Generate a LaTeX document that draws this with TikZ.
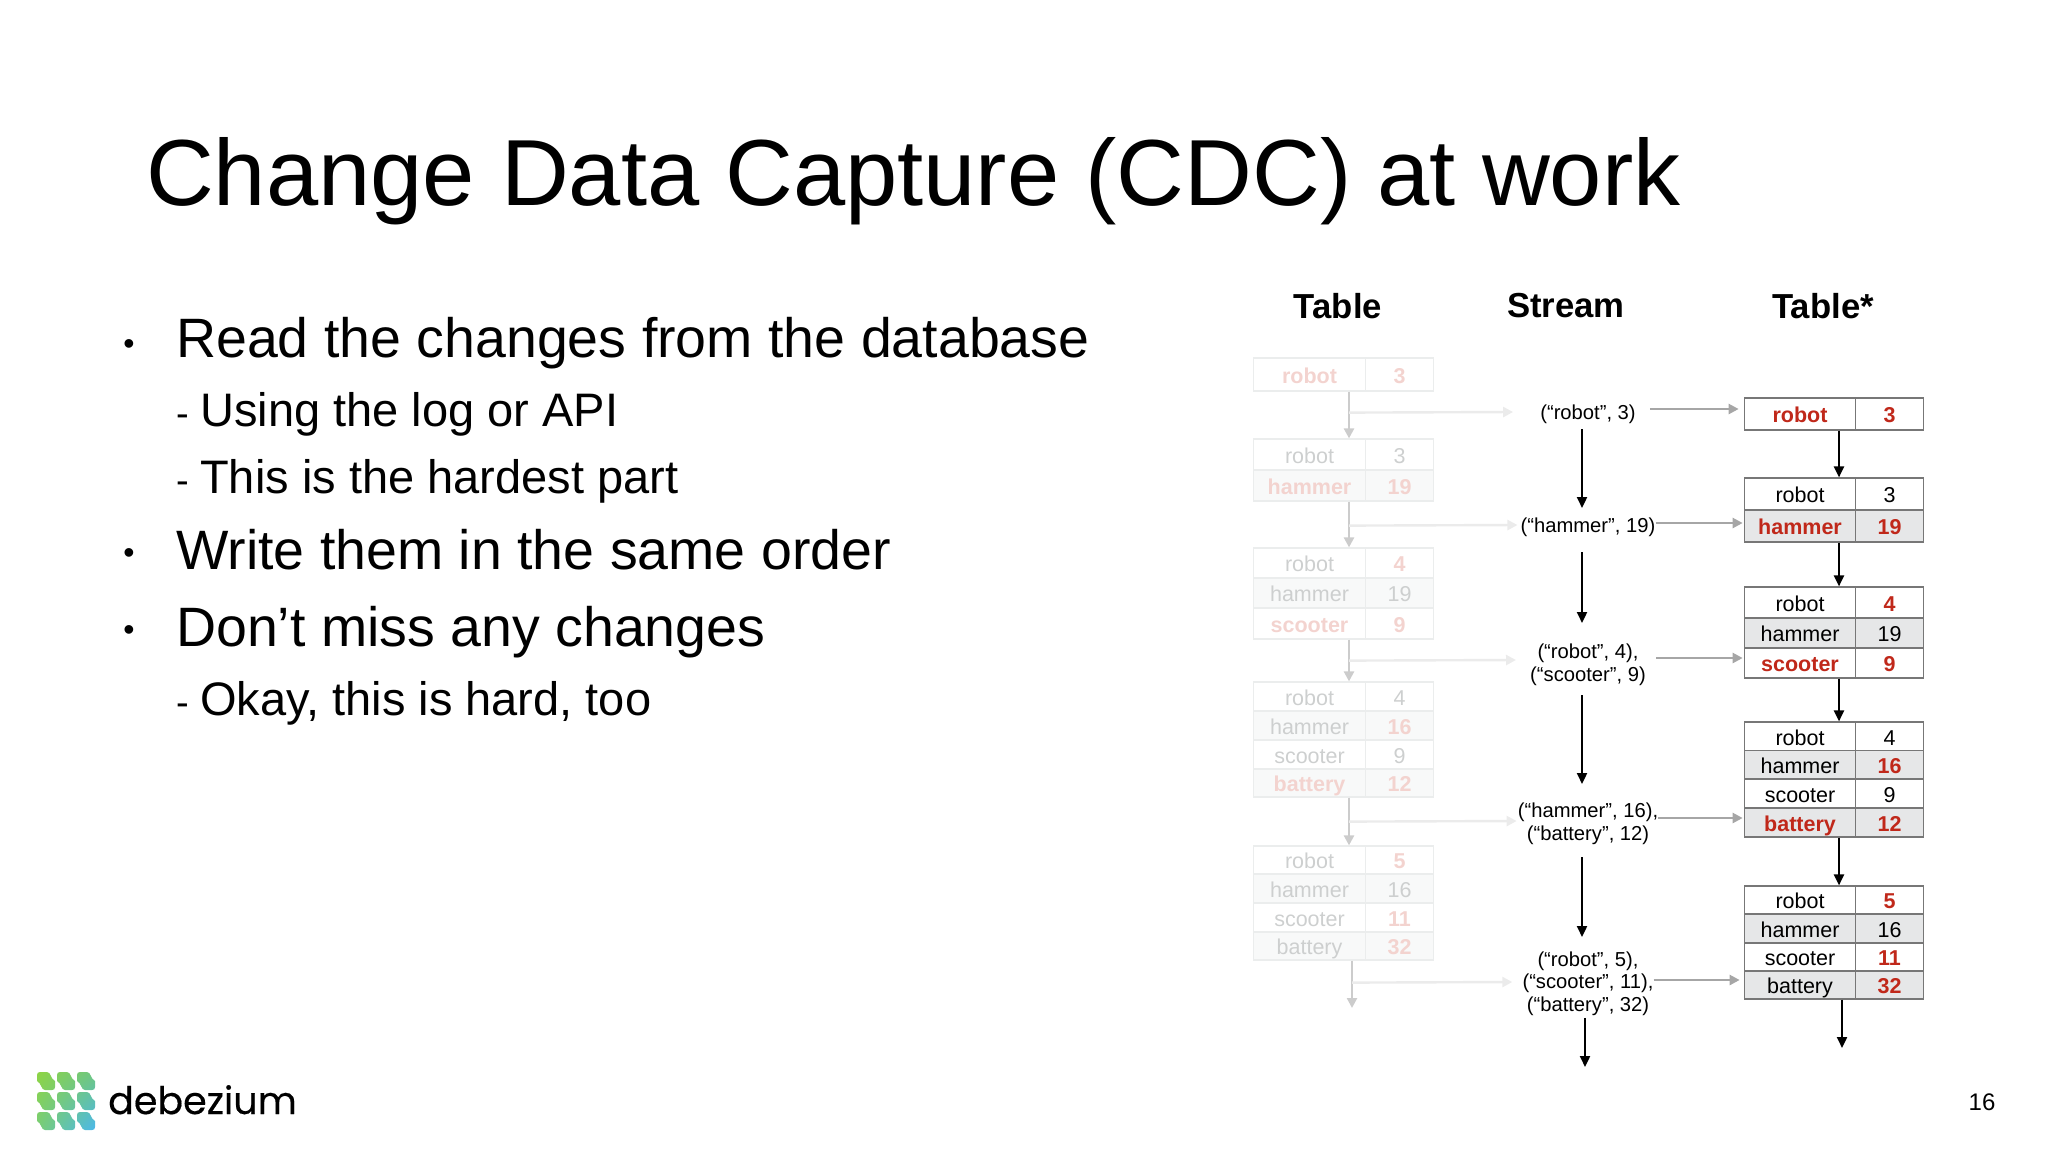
\documentclass[tikz,border=0pt]{standalone}
\usepackage{fontspec}
\setmainfont{Liberation Sans}
\newfontfamily\logofont[FakeBold=0.4]{Poppins}
\usetikzlibrary{arrows.meta,shadings}
\definecolor{hotred}{HTML}{C0281A}
\definecolor{paleink}{HTML}{CDCFCF}
\definecolor{palered}{HTML}{F3D3CF}
\definecolor{paleline}{HTML}{EBEDED}
\definecolor{palefill}{HTML}{F8F9F9}
\definecolor{rowgrey}{HTML}{E6E7E8}
\definecolor{cellline}{HTML}{777777}
\definecolor{logoa}{RGB}{142,212,68}
\definecolor{logob}{RGB}{110,198,130}
\definecolor{logoc}{RGB}{120,205,120}
\definecolor{logod}{RGB}{75,184,235}
\begin{document}
\begin{tikzpicture}[
    x=1pt, y=-1pt,
    title/.style={anchor=base west, inner sep=0pt, font=\fontsize{93.9}{100}\selectfont},
    bigline/.style={anchor=base west, inner sep=0pt, font=\fontsize{55.5}{60}\selectfont},
    subline/.style={anchor=base west, inner sep=0pt, font=\fontsize{47}{52}\selectfont},
    dashmark/.style={anchor=base west, inner sep=0pt, font=\fontsize{38}{40}\selectfont},
    dotmark/.style={inner sep=0pt, font=\fontsize{32}{32}\selectfont},
    header/.style={inner sep=0pt, font=\fontsize{34.7}{36}\selectfont\bfseries},
    streamtext/.style={align=center, inner sep=0pt, font=\fontsize{20.2}{22.7}\selectfont},
    cell/.style={draw=cellline, line width=1.2pt, minimum height=#1, inner sep=0pt, text height=17.5pt, text depth=0pt, font=\fontsize{21.5}{23}\selectfont},
    keycell/.style={cell=#1, minimum width=111.5pt},
    valcell/.style={cell=#1, minimum width=67.5pt},
    plain/.style={},
    hot/.style={text=hotred, font=\fontsize{21.5}{23}\selectfont\bfseries},
    grey/.style={fill=rowgrey},
    hotgrey/.style={hot, grey},
    faint/.style={draw=paleline, text=paleink},
    faintfill/.style={faint, fill=palefill},
    faintred/.style={draw=paleline, text=palered, font=\fontsize{21.5}{23}\selectfont\bfseries},
    faintredfill/.style={faintred, fill=palefill},
    flow/.style={-{Triangle[length=11pt,width=10pt]}, line width=2.2pt, black},
    sendflow/.style={-{Triangle[length=10pt,width=10pt]}, line width=2.4pt, black!35},
    paleflow/.style={-{Triangle[length=10pt,width=10pt]}, line width=2.4pt, black!20},
    palesend/.style={-{Triangle[length=10pt,width=10pt]}, line width=2.4pt, black!8},
  ]
    \useasboundingbox (0,0) rectangle (2048,1152);

    % slide text
    \node[title] (head) at (146,205.5) {Change Data Capture (CDC) at work};
    \node[dotmark] (dot1) at (129,347) {•};
    \node[bigline] (read) at (176,357) {Read the changes from the database};
    \node[dashmark] (dash1) at (176,426) {-};
    \node[subline] (using) at (200,426) {Using the log or API};
    \node[dashmark] (dash2) at (176,493) {-};
    \node[subline] (hardest) at (200,493) {This is the hardest part};
    \node[dotmark] (dot2) at (129,556) {•};
    \node[bigline] (write) at (176,569) {Write them in the same order};
    \node[dotmark] (dot3) at (129,633) {•};
    \node[bigline] (miss) at (176,646) {Don’t miss any changes};
    \node[dashmark] (dash3) at (176,715) {-};
    \node[subline] (okay) at (200,715) {Okay, this is hard, too};

    % column titles
    \node[header] (tablehead) at (1338,306) {Table};
    \node[header] (streamhead) at (1566,306) {Stream};
    \node[header] (starhead) at (1823,306) {Table*};

    % left tables, faded
    \foreach \id/\y/\h/\key/\val/\ks/\vs in {
        la/374.5/33/robot/3/faintred/faintred,
        ba/454.5/31/robot/3/faint/faint,
        bb/485.5/31/hammer/19/faintredfill/faintredfill,
        ca/563/30/robot/4/faint/faintred,
        cb/593/30/hammer/19/faintfill/faintfill,
        cc/623.5/31/scooter/9/faintred/faintred,
        da/696.5/29/robot/4/faint/faint,
        db/725.5/29/hammer/16/faintfill/faintredfill,
        dc/754.5/29/scooter/9/faint/faint,
        dd/783/28/battery/12/faintredfill/faintredfill,
        ea/860/28/robot/5/faint/faintred,
        eb/888.5/29/hammer/16/faintfill/faintfill,
        ec/917.5/29/scooter/11/faint/faintred,
        ed/946/28/battery/32/faintfill/faintredfill} {
      \node[keycell=\h pt,\ks] (\id key) at (1309.5,\y) {\key};
      \node[valcell=\h pt,\vs] (\id val) at (1399.5,\y) {\val};
    }

    % right tables
    \foreach \id/\y/\h/\key/\val/\ks/\vs in {
        ra/414/32/robot/3/hot/hot,
        sa/494/32/robot/3/plain/plain,
        sb/526/32/hammer/19/hotgrey/hotgrey,
        ta/602.5/31/robot/4/plain/hot,
        tb/633/30/hammer/19/grey/grey,
        tc/663/30/scooter/9/hot/hot,
        ua/736.5/29/robot/4/plain/plain,
        ub/765/29/hammer/16/grey/hotgrey,
        uc/793.5/29/scooter/9/plain/plain,
        ud/822.5/29/battery/12/hotgrey/hotgrey,
        va/900/28/robot/5/plain/hot,
        vb/928.5/29/hammer/16/grey/grey,
        vc/957/28/scooter/11/plain/hot,
        vd/985/28/battery/32/grey/hotgrey} {
      \node[keycell=\h pt,\ks] (\id key) at (1800,\y) {\key};
      \node[valcell=\h pt,\vs] (\id val) at (1889.5,\y) {\val};
    }

    % stream entries
    \node[streamtext] (s1) at (1588,414) {(“robot”, 3)};
    \node[streamtext] (s2) at (1588,527) {(“hammer”, 19)};
    \node[streamtext] (s3) at (1588,665) {(“robot”, 4),\\(“scooter”, 9)};
    \node[streamtext] (s4) at (1588,823.5) {(“hammer”, 16),\\(“battery”, 12)};
    \node[streamtext] (s5) at (1588,983.5) {(“robot”, 5),\\(“scooter”, 11),\\(“battery”, 32)};

    % free ends of the last arrows
    \coordinate (leftend) at (1352,1008);
    \coordinate (streamend) at (1585,1067);
    \coordinate (rightend) at (1842,1048);

    % table to table, left
    \draw[paleflow] ([xshift=39.5pt]lakey.south) -- ([xshift=39.5pt]bakey.north);
    \draw[paleflow] ([xshift=39.5pt]bbkey.south) -- ([xshift=39.5pt]cakey.north);
    \draw[paleflow] ([xshift=39.5pt]cckey.south) -- ([xshift=39.5pt]dakey.north);
    \draw[paleflow] ([xshift=39.5pt]ddkey.south) -- ([xshift=39.5pt]eakey.north);
    \draw[paleflow] ([xshift=42.5pt]edkey.south) -- (leftend);

    % table to stream
    \draw[palesend] ([xshift=39.5pt,yshift=-21pt]lakey.south) -- ([xshift=-27pt,yshift=2pt]s1.west);
    \draw[palesend] ([xshift=39.5pt,yshift=-24pt]bbkey.south) -- ([xshift=-3pt,yshift=2pt]s2.west);
    \draw[palesend] ([xshift=39.5pt,yshift=-21pt]cckey.south) -- ([xshift=-14pt,yshift=5pt]s3.west);
    \draw[palesend] ([xshift=39.5pt,yshift=-24pt]ddkey.south) -- ([xshift=-1pt,yshift=2.5pt]s4.west);
    \draw[palesend] ([xshift=42.5pt,yshift=-22pt]edkey.south) -- ([xshift=-10pt,yshift=1.5pt]s5.west);

    % stream down
    \draw[flow] (1582,429) -- (1582,508);
    \draw[flow] (1582,552) -- (1582,623);
    \draw[flow] (1582,695) -- (1582,784);
    \draw[flow] (1582,857) -- (1582,937);
    \draw[flow] (s5.south -| streamend) ++(0,2) -- (streamend);

    % stream to table
    \draw[sendflow] ([xshift=14pt,yshift=5pt]s1.east) -- ([xshift=-5pt,yshift=5pt]rakey.west);
    \draw[sendflow] ([yshift=4pt]s2.east) -- ([xshift=-1pt,yshift=3pt]sbkey.west);
    \draw[sendflow] ([xshift=10pt,yshift=7pt]s3.east) -- ([xshift=-1pt,yshift=5pt]tckey.west);
    \draw[sendflow] ([yshift=5.5pt]s4.east) -- ([xshift=-1pt,yshift=4.5pt]udkey.west);
    \draw[sendflow] ([yshift=3.5pt]s5.east) -- ([xshift=-4pt,yshift=5pt]vdkey.west);

    % table to table, right
    \draw[flow] ([xshift=39pt]rakey.south) -- ([xshift=39pt]sakey.north);
    \draw[flow] ([xshift=39pt]sbkey.south) -- ([xshift=39pt]takey.north);
    \draw[flow] ([xshift=39pt]tckey.south) -- ([xshift=39pt]uakey.north);
    \draw[flow] ([xshift=39pt]udkey.south) -- ([xshift=39pt]vakey.north);
    \draw[flow] ([xshift=42pt]vdkey.south) -- (rightend);

    % logo
    \begin{scope}
      \path[clip]
        \foreach \cx in {37,57,77} {
          \foreach \cy in {1072,1092,1112} {
            (\cx,\cy+3) .. controls (\cx,\cy+1) and (\cx+1,\cy) .. (\cx+3,\cy)
            -- (\cx+10,\cy) .. controls (\cx+14,\cy) and (\cx+13.5,\cy+7) .. (\cx+18,\cy+9)
            -- (\cx+18,\cy+15) .. controls (\cx+18,\cy+17) and (\cx+17,\cy+18) .. (\cx+15,\cy+18)
            -- (\cx+8,\cy+18) .. controls (\cx+4,\cy+18) and (\cx+4.5,\cy+11) .. (\cx,\cy+9) -- cycle
          }
        };
      \shade[upper left=logoa, upper right=logob, lower left=logoc, lower right=logod]
        (37,1072) rectangle (95,1130);
    \end{scope}
    \node[anchor=base west, inner sep=0pt, font=\logofont\fontsize{38}{40}\selectfont] (logoword) at (108,1114) {debezium};

    % page number
    \node[anchor=base, inner sep=0pt, font=\fontsize{24}{26}\selectfont] (pagenum) at (1982,1110) {16};
  \end{tikzpicture}
\end{document}
